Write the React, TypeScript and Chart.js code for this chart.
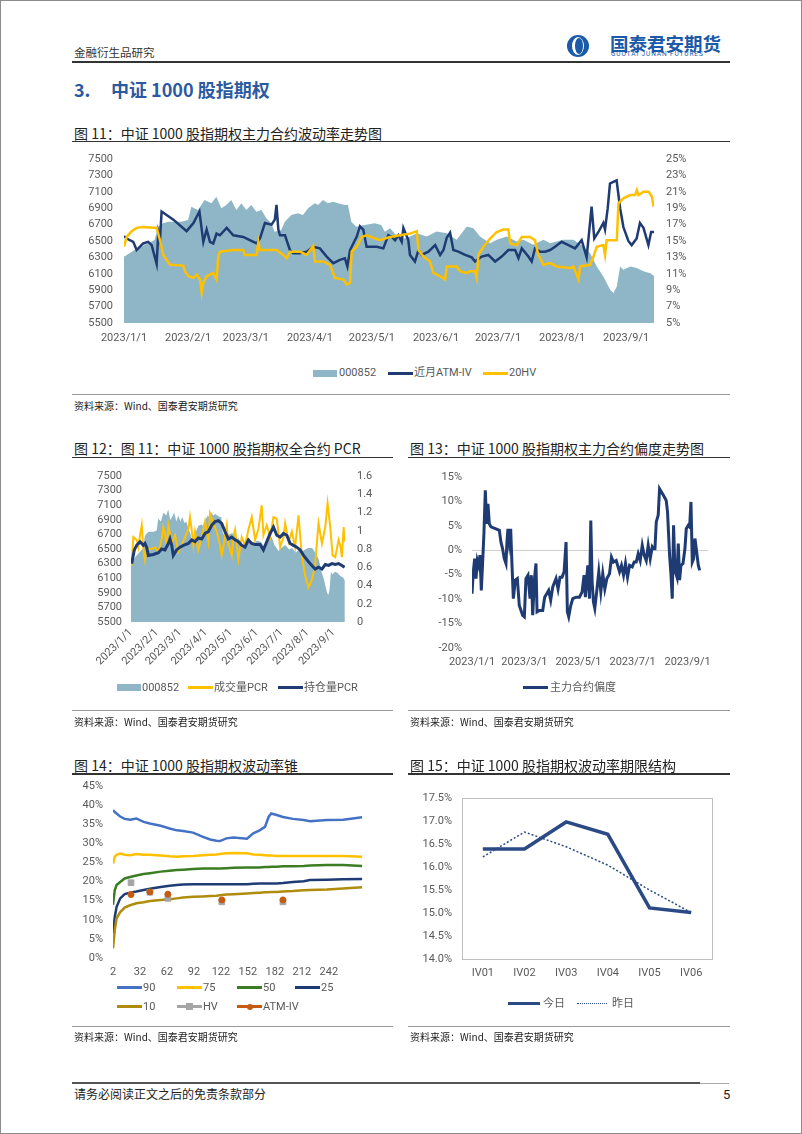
import React, { useEffect, useRef } from 'react';
import { Chart, registerables } from 'chart.js';

Chart.register(...registerables);

const AXIS_FONT = "'Liberation Sans Narrow', Roboto, 'Noto Sans CJK SC', sans-serif";
const CJK_FONT = "'Noto Sans CJK SC', 'Noto Sans', sans-serif";
const AXIS_COLOR = '#595959';

// ---------- shared ticks ----------
const monthTickDays = [0, 31, 59, 90, 120, 151, 181, 212, 243];
const monthTickLabels = ['2023/1/1', '2023/2/1', '2023/3/1', '2023/4/1', '2023/5/1', '2023/6/1', '2023/7/1', '2023/8/1', '2023/9/1'];
const skewTickDays = [0, 59, 120, 181, 243];
const skewTickLabels = ['2023/1/1', '2023/3/1', '2023/5/1', '2023/7/1', '2023/9/1'];
const indexTicks = [5500, 5700, 5900, 6100, 6300, 6500, 6700, 6900, 7100, 7300, 7500];
const volPctTicks = [5, 7, 9, 11, 13, 15, 17, 19, 21, 23, 25];
const pcrTicks = [0, 0.2, 0.4, 0.6, 0.8, 1, 1.2, 1.4, 1.6];

// ---------- 000852 index (day offset from 2023/1/1) ----------
const idxDays = [
  0, 5.2, 10, 14.8, 16.5, 18.9, 21.3, 27.7, 31, 32.6,
  35.8, 39, 42.3, 44.7, 47.1, 49.5, 51.9, 54.4, 56.8, 59.2,
  61.6, 64.1, 66.5, 68.9, 71.3, 72.9, 76.1, 77.8, 81, 84.2,
  86.6, 89.1, 92.3, 93.9, 96.3, 98.7, 101.2, 103.6, 106.8, 108.4,
  110, 112.4, 116.5, 121.3, 124.5, 126.2, 128.8, 133.6, 138.4, 141.7,
  146.5, 151.3, 156.2, 161, 165.9, 169.1, 172.3, 177.2, 180.4, 185.2,
  190, 193.3, 198.1, 203, 206.2, 209.4, 212.6, 217.5, 222.3, 225.6,
  228.8, 232, 235.3, 236.9, 238.5, 240.1, 241.7, 245, 248.2, 251.4,
  254.7, 256.8,
];
const idxValues = [
  6308, 6390, 6451, 6512, 6674, 6715, 6735, 6735, 6756, 6918,
  6878, 7000, 6959, 7040, 6898, 6939, 7000, 6878, 6959, 6878,
  6939, 6857, 6878, 6776, 6715, 6614, 6634, 6735, 6817, 6837,
  6817, 6898, 6959, 6939, 7000, 6959, 6980, 6959, 6939, 6939,
  6735, 6674, 6695, 6715, 6695, 6614, 6656, 6514, 6555, 6595,
  6555, 6615, 6595, 6514, 6677, 6656, 6555, 6474, 6514, 6555,
  6494, 6514, 6453, 6514, 6474, 6494, 6514, 6514, 6433, 6352,
  6190, 6068, 5906, 5865, 5946, 6190, 6150, 6190, 6170, 6130,
  6108, 6068,
];

// ---------- Fig 11: near-month ATM IV and 20-day HV (%) ----------
const atmIvDays = [
  0, 1.3, 4.5, 6.1, 9.3, 11.7, 13.4, 15.8, 16.6, 17.4,
  18.2, 23.9, 30.3, 33.6, 36.5, 38.4, 40, 41.6, 43.2, 44.8,
  46.4, 49.7, 52.9, 57.7, 60.9, 64.2, 65.8, 68.2, 71.4, 73,
  73.8, 74.7, 75.5, 77.9, 80.3, 81.9, 85.2, 88.4, 91.6, 94.8,
  98.1, 101.3, 104.5, 106.9, 108.1, 109.4, 112.6, 114.2, 115.8, 117.4,
  122.3, 125.5, 127.9, 129.6, 131.2, 132.8, 134.4, 135.2, 137.6, 138.4,
  140.8, 142.5, 144.1, 147.3, 150.6, 153, 154.6, 156.2, 157.8, 159.4,
  161.8, 165.1, 168.3, 169.9, 173.1, 176.3, 179.6, 182.8, 186, 189.3,
  190.9, 192.5, 195.7, 197.3, 198.9, 201.4, 203.8, 206.2, 208.6, 211.8,
  215.1, 218.3, 221.5, 223.9, 226.3, 227.6, 229.6, 232, 232.8, 234.1,
  235.2, 236.8, 238.4, 240.1, 241.7, 244.1, 245.7, 248.1, 249.7, 251.4,
  253.8, 255.1, 256.5,
];
const atmIvValues = [
  15.6, 15.3, 14.9, 13.9, 14.7, 14.9, 14.5, 12.2, 16.0, 15.1,
  18.6, 17.6, 16.2, 17.2, 18.6, 14.9, 16.4, 14.9, 14.7, 15.9,
  15.7, 16.6, 15.7, 15.5, 15.1, 14.7, 15.3, 17.2, 17.0, 17.6,
  19.4, 16.4, 15.7, 15.7, 13.9, 13.5, 13.5, 13.7, 14.3, 14.1,
  13.1, 12.3, 12.7, 12.9, 11.9, 13.9, 15.5, 16.8, 16.4, 14.3,
  14.3, 14.1, 15.7, 15.5, 15.1, 15.7, 14.9, 16.6, 15.1, 13.3,
  12.5, 13.9, 13.3, 13.7, 14.5, 13.3, 13.9, 15.4, 16.0, 13.9,
  13.7, 13.3, 13.0, 12.5, 13.1, 13.3, 12.5, 13.1, 13.9, 13.9,
  12.9, 14.1, 13.1, 12.5, 14.1, 13.7, 13.7, 13.9, 14.3, 14.9,
  14.5, 14.1, 15.1, 13.0, 19.2, 15.3, 16.1, 17.2, 16.4, 19.0,
  22.0, 22.2, 22.4, 19.0, 16.7, 15.0, 14.5, 15.3, 17.2, 16.6,
  14.5, 16.1, 16.1,
];
const hv20Days = [
  0, 1.3, 3.7, 6.1, 9.3, 15.8, 17.4, 19, 22.3, 28.7,
  29.5, 31.1, 33.6, 35.2, 36.8, 37.6, 38.4, 40, 43.2, 44.8,
  45.6, 46.4, 52.9, 57.7, 58.5, 64.2, 65, 65.8, 69, 73.9,
  77.1, 78.7, 80.3, 85.2, 88.4, 91.6, 92.4, 96.5, 99.7, 102.1,
  106.2, 107.8, 109.4, 110.2, 112.6, 115, 117.4, 123.9, 128.8, 133.6,
  138.4, 141.7, 142.5, 144.9, 148.1, 149.7, 153, 155.4, 156.2, 161,
  162.7, 165.9, 167.5, 169.9, 170.7, 171.5, 173.9, 177.2, 180.4, 183.6,
  186, 186.9, 190.1, 192.5, 196.5, 198.9, 200.5, 203, 206.2, 209.4,
  215.9, 217.5, 220, 220.7, 225.6, 227.2, 228.8, 232, 232.8, 233.6,
  238.5, 239.3, 241.7, 245, 247.4, 248.2, 249, 251.4, 253.9, 255.5,
  256.3,
];
const hv20Values = [
  14.3, 15.5, 16.2, 16.6, 16.7, 16.6, 15.1, 13.3, 12.1, 12.0,
  11.3, 10.7, 10.5, 10.9, 10.3, 8.7, 9.9, 10.7, 11.1, 10.3,
  13.1, 13.7, 13.9, 13.9, 13.3, 13.3, 14.9, 13.9, 13.9, 13.9,
  13.3, 12.9, 13.7, 13.7, 13.3, 14.4, 12.5, 12.5, 12.1, 10.5,
  10.3, 9.7, 9.9, 13.7, 14.3, 15.5, 15.7, 15.1, 15.5, 15.7,
  15.9, 16.2, 13.9, 13.1, 12.5, 11.1, 10.7, 10.3, 11.9, 11.9,
  11.3, 11.1, 11.3, 11.3, 10.5, 13.3, 14.3, 15.3, 16.1, 16.4,
  16.4, 14.7, 14.5, 15.5, 15.5, 15.1, 13.3, 12.1, 12.3, 11.9,
  11.7, 11.9, 10.3, 11.9, 12.1, 13.1, 14.3, 14.5, 13.3, 15.1,
  15.1, 19.6, 20.2, 20.6, 20.6, 21.2, 20.6, 21.0, 21.0, 20.4,
  19.2,
];

// ---------- Fig 12: PCR ----------
const volPcrDays = [
  0.8, 2.8, 6.8, 8.8, 10.8, 12.9, 14.8, 16.8, 18.8, 20.8,
  24.8, 28.8, 32.9, 36.8, 38.8, 40.8, 42.9, 44.8, 48.9, 52.9,
  56.8, 60.8, 64.8, 68.9, 70.8, 72.9, 74.9, 76.9, 80.8, 84.9,
  88.9, 92.9, 94.9, 98.9, 102.9, 107, 108.9, 110.9, 115, 116.9,
  121, 122.9, 125, 129, 133, 136.9, 141, 145, 149, 153,
  157, 159, 163, 167.1, 171.1, 175.1, 179.1, 183.2, 185.1, 189.2,
  193.2, 197.1, 201.2, 205.1, 209.1, 213.2, 217.2, 221.2, 223.3, 225.2,
  229.3, 233.3, 236.1, 239.3, 242.1, 245.3, 249.3, 251.3, 253.3, 255.4, 256.5,
];
const volPcrValues = [
  0.62, 0.93, 0.90, 0.82, 0.95, 1.06, 0.80, 0.68, 0.82, 0.80,
  0.80, 0.82, 0.77, 0.90, 1.04, 0.97, 0.80, 1.06, 0.86, 0.95,
  0.77, 0.84, 0.93, 1.02, 1.15, 1.01, 0.84, 0.99, 0.79, 0.93,
  1.10, 0.88, 1.19, 1.08, 0.99, 0.84, 0.73, 0.82, 1.06, 0.86,
  0.73, 0.93, 1.01, 0.69, 0.93, 0.84, 1.01, 1.15, 0.90, 1.02,
  1.28, 0.95, 1.06, 0.93, 1.15, 1.13, 0.82, 0.93, 1.08, 0.88,
  0.99, 0.82, 1.17, 0.73, 0.51, 0.38, 0.46, 0.62, 0.88, 1.08,
  0.86, 1.04, 1.30, 1.04, 0.73, 0.71, 0.90, 0.84, 0.71, 1.04, 0.88,
];
const oiPcrDays = [
  0.8, 4, 6.8, 10.8, 14.8, 16.8, 18.8, 20.8, 26.8, 32.9,
  36.8, 40.8, 44.8, 46.8, 48.9, 50.8, 54.8, 58.9, 62.9, 68.9,
  72.9, 76.9, 80.8, 84.9, 88.9, 92.9, 96.9, 100.9, 105, 108.9,
  112.9, 116.9, 121, 125, 129, 133, 136.9, 141, 145, 149,
  155, 159, 163, 167.1, 171.1, 175.1, 179.1, 183.2, 187.1, 191.1,
  195.1, 199.1, 203.2, 207.2, 213.2, 217.2, 221.2, 225.2, 229.3, 233.3,
  237.3, 241.3, 245.3, 249.3, 253.3, 256.5,
];
const oiPcrValues = [
  0.64, 0.79, 0.84, 0.88, 0.84, 0.86, 0.82, 0.73, 0.74, 0.76,
  0.80, 0.79, 0.86, 0.91, 0.84, 0.73, 0.79, 0.82, 0.84, 0.86,
  0.90, 0.88, 0.92, 0.91, 0.97, 0.99, 1.06, 1.10, 1.11, 1.08,
  0.99, 0.91, 0.93, 0.90, 0.88, 0.84, 0.82, 0.90, 0.86, 0.85,
  0.85, 0.79, 0.88, 0.97, 1.04, 0.95, 0.93, 0.97, 0.95, 0.86,
  0.84, 0.82, 0.79, 0.73, 0.66, 0.62, 0.58, 0.60, 0.58, 0.63,
  0.62, 0.64, 0.63, 0.64, 0.62, 0.60,
];

// ---------- Fig 13: skew (%) ----------
const skewDays = [
  0, 1.5, 3, 4.5, 6, 7.5, 9, 10.5, 12, 13.5,
  15, 16.5, 18, 19.5, 21.4, 27, 30.8, 32.6, 34.5, 36.4,
  38.3, 39.4, 40.5, 42, 43.6, 45.1, 46.6, 48.8, 51.1, 53.3,
  57.1, 59, 60.8, 63.1, 65.4, 66.9, 68.4, 70.6, 72.1, 73.3,
  75.9, 79.7, 81.9, 84.2, 86.4, 88.7, 91, 94.7, 97, 99.2,
  101.5, 103.8, 106, 107.5, 109, 111.3, 113.6, 117.3, 121.1, 124.1,
  126.3, 127.8, 130.5, 132.4, 133.9, 135.4, 136.9, 138.4, 140.7, 142.9,
  145.2, 147.4, 149.7, 152, 155, 157.2, 159.5, 162.5, 166.3, 168.5,
  170.8, 173, 175.3, 177.6, 180.6, 182.8, 185.1, 187.3, 189.6, 191.9,
  194.1, 196.4, 198.6, 200.9, 203.2, 204.7, 206.2, 207.7, 209.9, 211.4,
  213.7, 215.9, 218.9, 220.4, 222.7, 224.2, 225.7, 227.2, 228.7, 231,
  232.5, 234, 235.5, 237.8, 240, 241.5, 243.8, 245.3, 246.8, 248.3,
  249.8, 251.3, 252.8, 255.1, 256.6,
];
const skewValues = [
  -8.9, -4.4, -1.7, -5.8, -2.1, -3.1, -1.0, -8.2, -2.4, 3.7,
  12.3, 5.4, 9.5, 5.4, 4.8, 4.4, 4.1, 1.7, 0.3, -1.7,
  -2.7, 1.7, 4.4, 1.7, 4.4, -3.1, -9.9, -6.1, -5.8, -11.3,
  -13.3, -13.6, -5.8, -5.1, -9.9, -5.1, -13.3, -5.5, -2.7, -12.6,
  -12.3, -12.3, -9.6, -8.9, -8.2, -10.2, -7.5, -5.8, -7.9, -5.5,
  -5.5, -4.4, 1.7, -12.6, -13.6, -11.3, -9.9, -9.6, -9.6, -8.5,
  -5.1, -9.6, -3.1, -9.9, 6.1, -6.5, -10.6, -11.9, -8.2, -4.4,
  -8.5, -4.8, -7.9, -5.8, -4.8, -1.4, -2.4, -2.1, -4.4, -3.1,
  -5.1, -2.7, -5.5, -3.1, -3.4, -2.4, -2.4, -0.7, -2.1, 1.0,
  -1.0, -2.1, 1.0, -1.7, 0.7, 0.3, 0.3, 5.8, 7.2, 12.6,
  11.9, 11.2, 10.2, 7.8, -1.0, -4.8, -9.9, 5.1, -4.1, -5.5,
  1.4, -6.1, -3.1, -2.7, 0.3, 4.4, 5.1, 4.8, 9.9, -2.4,
  -1.7, 2.4, 0.3, -3.1, -4.1,
];

// ---------- Fig 14: volatility cone (%) ----------
const coneTickDays = [2, 32, 62, 92, 122, 152, 182, 212, 242];
const coneDays = [
  2, 4, 6, 10, 15, 21, 28, 36, 43, 55,
  65, 73, 80, 91, 102, 110, 117, 121, 128, 136,
  151, 158, 165, 171, 175, 178, 184, 191, 202, 214,
  221, 240, 258, 279,
];
const cone90 = [
  38.7, 38.2, 37.8, 37.0, 36.4, 36.2, 36.5, 35.6, 35.2, 34.6,
  33.9, 33.4, 33.2, 32.8, 31.7, 31.0, 30.7, 30.6, 31.3, 31.5,
  31.2, 32.6, 33.4, 34.3, 36.9, 37.8, 37.4, 36.9, 36.4, 36.1,
  35.8, 36.1, 36.2, 36.8,
];
const cone75 = [
  24.7, 26.5, 27.0, 27.3, 27.0, 26.9, 27.2, 27.0, 27.0, 26.8,
  26.6, 26.5, 26.6, 26.7, 26.9, 27.0, 27.1, 27.2, 27.4, 27.5,
  27.4, 27.1, 27.0, 26.9, 26.8, 26.8, 26.7, 26.7, 26.7, 26.7,
  26.7, 26.7, 26.7, 26.5,
];
const cone50 = [
  13.9, 17.8, 19.1, 19.9, 20.8, 21.2, 21.6, 22.0, 22.2, 22.6,
  22.8, 23.0, 23.1, 23.3, 23.4, 23.4, 23.4, 23.4, 23.5, 23.6,
  23.7, 23.7, 23.7, 23.8, 23.8, 23.9, 23.9, 24.0, 24.0, 24.1,
  24.2, 24.3, 24.3, 24.1,
];
const cone25 = [
  6.4, 10.8, 13.4, 15.6, 16.7, 17.1, 17.4, 17.8, 18.1, 18.6,
  18.9, 19.1, 19.2, 19.3, 19.3, 19.3, 19.3, 19.3, 19.3, 19.3,
  19.3, 19.4, 19.5, 19.5, 19.5, 19.5, 19.5, 19.6, 19.9, 20.1,
  20.4, 20.5, 20.6, 20.7,
];
const cone10 = [
  2.5, 7.3, 10.4, 12.0, 13.2, 13.8, 14.3, 14.6, 14.9, 15.2,
  15.4, 15.6, 15.8, 16.0, 16.1, 16.2, 16.3, 16.4, 16.6, 16.7,
  16.9, 17.0, 17.1, 17.2, 17.2, 17.3, 17.3, 17.4, 17.5, 17.7,
  17.8, 17.9, 18.2, 18.5,
];
const coneMarkDays = [22, 43, 63, 123, 191];
const coneHv = [19.7, 17.2, 15.6, 14.7, 14.7];
const coneAtmIv = [16.6, 17.3, 16.7, 15.2, 15.2];

// ---------- Fig 15: term structure (%) ----------
const termLabels = ['IV01', 'IV02', 'IV03', 'IV04', 'IV05', 'IV06'];
const termToday = [16.39, 16.39, 16.98, 16.71, 15.11, 15.01];
const termYesterday = [16.22, 16.76, 16.44, 16.04, 15.5, 15.01];

// ---------- helpers ----------
const TOP_PAD = 20;
const pts = (xs: number[], ys: number[]) => xs.map((x, i) => ({ x, y: ys[i] }));
const fixW = (w: number) => (s: any) => { s.width = w; };
const fixH = (h: number) => (s: any) => { s.height = h; };
const tickFont = { family: AXIS_FONT, size: 11 };
const fixedTicks = (values: number[]) => (s: any) => { s.ticks = values.map((v) => ({ value: v })); };
const labelFor = (values: number[], labels: string[]) => (v: any) => {
  const i = values.indexOf(Number(v));
  return i >= 0 ? labels[i] : '';
};
const plain = (v: any) => String(v);
const noGrid = { display: false, drawTicks: false };
const noBorder = { display: false };
const baseOptions = (right: number) => ({
  responsive: false,
  animation: false,
  devicePixelRatio: 1,
  layout: { padding: { top: TOP_PAD, left: 0, right, bottom: 0 } },
  plugins: { legend: { display: false }, tooltip: { enabled: false } },
  elements: { line: { tension: 0 } },
});

function fig11(): any {
  return {
    type: 'line',
    data: {
      datasets: [
        { label: '000852', data: pts(idxDays, idxValues), yAxisID: 'y', fill: 'start', backgroundColor: '#8FB6C7', borderWidth: 0, pointRadius: 0, order: 3 },
        { label: '近月ATM-IV', data: pts(atmIvDays, atmIvValues), yAxisID: 'y1', borderColor: '#1F3B73', borderWidth: 2.5, pointRadius: 0, fill: false, order: 2 },
        { label: '20HV', data: pts(hv20Days, hv20Values), yAxisID: 'y1', borderColor: '#FFC000', borderWidth: 2.5, pointRadius: 0, fill: false, order: 1 },
      ],
    },
    options: {
      ...baseOptions(0),
      scales: {
        x: {
          type: 'linear', min: 0, max: 256.5, grid: noGrid, border: noBorder,
          afterBuildTicks: fixedTicks(monthTickDays),
          ticks: { callback: labelFor(monthTickDays, monthTickLabels), autoSkip: false, maxRotation: 0, minRotation: 0, padding: 9, font: tickFont, color: AXIS_COLOR },
          afterFit: fixH(32),
        },
        y: {
          position: 'left', min: 5500, max: 7500, grid: noGrid, border: noBorder,
          afterBuildTicks: fixedTicks(indexTicks),
          ticks: { autoSkip: false, padding: 11, font: tickFont, color: AXIS_COLOR, callback: plain },
          afterFit: fixW(52),
        },
        y1: {
          position: 'right', min: 5, max: 25, grid: noGrid, border: noBorder,
          afterBuildTicks: fixedTicks(volPctTicks),
          ticks: { autoSkip: false, padding: 12, font: tickFont, color: AXIS_COLOR, callback: (v: any) => v + '%' },
          afterFit: fixW(76),
        },
      },
    },
  };
}

function fig12(): any {
  return {
    type: 'line',
    data: {
      datasets: [
        { label: '000852', data: pts(idxDays, idxValues), yAxisID: 'y', fill: 'start', backgroundColor: '#8FB6C7', borderWidth: 0, pointRadius: 0, order: 3 },
        { label: '成交量PCR', data: pts(volPcrDays, volPcrValues), yAxisID: 'y1', borderColor: '#FFC000', borderWidth: 2, pointRadius: 0, fill: false, order: 2 },
        { label: '持仓量PCR', data: pts(oiPcrDays, oiPcrValues), yAxisID: 'y1', borderColor: '#1F3B73', borderWidth: 3, pointRadius: 0, fill: false, order: 1 },
      ],
    },
    options: {
      ...baseOptions(0),
      scales: {
        x: {
          type: 'linear', min: 0, max: 257, grid: noGrid, border: noBorder,
          afterBuildTicks: fixedTicks(monthTickDays),
          ticks: { callback: labelFor(monthTickDays, monthTickLabels), autoSkip: false, maxRotation: 45, minRotation: 45, padding: 4, font: tickFont, color: AXIS_COLOR },
          afterFit: fixH(62),
        },
        y: {
          position: 'left', min: 5500, max: 7500, grid: noGrid, border: noBorder,
          afterBuildTicks: fixedTicks(indexTicks),
          ticks: { autoSkip: false, padding: 9, font: tickFont, color: AXIS_COLOR, callback: plain },
          afterFit: fixW(59),
        },
        y1: {
          position: 'right', min: 0, max: 1.6, grid: noGrid, border: noBorder,
          afterBuildTicks: fixedTicks(pcrTicks),
          ticks: { autoSkip: false, padding: 12, font: tickFont, color: AXIS_COLOR, callback: plain },
          afterFit: fixW(48),
        },
      },
    },
  };
}

function fig13(): any {
  return {
    type: 'line',
    data: {
      datasets: [
        { label: '主力合约偏度', data: pts(skewDays, skewValues), borderColor: '#1F3B73', borderWidth: 3, pointRadius: 0, fill: false },
      ],
    },
    options: {
      ...baseOptions(22),
      scales: {
        x: {
          type: 'linear', min: 0, max: 266, grid: noGrid, border: noBorder,
          afterBuildTicks: fixedTicks(skewTickDays),
          ticks: { callback: labelFor(skewTickDays, skewTickLabels), autoSkip: false, maxRotation: 0, minRotation: 0, padding: 8, font: tickFont, color: AXIS_COLOR },
          afterFit: fixH(36),
        },
        y: {
          min: -20, max: 15, border: noBorder,
          grid: { drawTicks: false, color: (c: any) => (c.tick && c.tick.value === 0 ? '#D0D0D0' : 'rgba(0,0,0,0)'), lineWidth: 1 },
          ticks: { stepSize: 5, autoSkip: false, padding: 10, font: tickFont, color: AXIS_COLOR, callback: (v: any) => v + '%' },
          afterFit: fixW(64),
        },
      },
    },
  };
}

function fig14(): any {
  const line = (label: string, vals: number[], color: string, order: number) => ({
    label, data: pts(coneDays, vals), borderColor: color, borderWidth: 2.5, pointRadius: 0, fill: false, order,
  });
  return {
    type: 'line',
    data: {
      datasets: [
        line('90', cone90, '#4472C4', 6),
        line('75', cone75, '#FFC000', 5),
        line('50', cone50, '#3B7D23', 4),
        line('25', cone25, '#1F3B73', 3),
        line('10', cone10, '#B08C0C', 2),
        { label: 'HV', data: pts(coneMarkDays, coneHv), showLine: false, pointStyle: 'rect', pointRadius: 4, backgroundColor: '#A5A5A5', borderColor: '#A5A5A5', order: 1 },
        { label: 'ATM-IV', data: pts(coneMarkDays, coneAtmIv), showLine: false, pointStyle: 'circle', pointRadius: 3, backgroundColor: '#C55A11', borderColor: '#C55A11', order: 0 },
      ],
    },
    options: {
      ...baseOptions(30),
      scales: {
        x: {
          type: 'linear', min: 2, max: 280, grid: noGrid, border: noBorder,
          afterBuildTicks: fixedTicks(coneTickDays),
          ticks: { callback: plain, autoSkip: false, maxRotation: 0, minRotation: 0, padding: 8, font: tickFont, color: AXIS_COLOR },
          afterFit: fixH(25),
        },
        y: {
          min: 0, max: 45, grid: noGrid, border: noBorder,
          ticks: { stepSize: 5, autoSkip: false, padding: 10, font: tickFont, color: AXIS_COLOR, callback: (v: any) => v + '%' },
          afterFit: fixW(41),
        },
      },
    },
  };
}

const plotBox = {
  id: 'plotBox',
  beforeDatasetsDraw(c: any) {
    const { ctx, chartArea } = c;
    ctx.save();
    ctx.strokeStyle = '#BFBFBF';
    ctx.lineWidth = 1;
    ctx.strokeRect(Math.round(chartArea.left) + 0.5, Math.round(chartArea.top) + 0.5, Math.round(chartArea.right - chartArea.left), Math.round(chartArea.bottom - chartArea.top));
    ctx.restore();
  },
};

function fig15(): any {
  return {
    type: 'line',
    data: {
      labels: termLabels,
      datasets: [
        { label: '今日', data: termToday, borderColor: '#2B4A85', borderWidth: 3.5, pointRadius: 0, fill: false },
        { label: '昨日', data: termYesterday, borderColor: '#2B4A85', borderWidth: 1.5, borderDash: [2, 2], pointRadius: 0, fill: false },
      ],
    },
    plugins: [plotBox],
    options: {
      ...baseOptions(18),
      scales: {
        x: {
          type: 'category', offset: true, grid: noGrid, border: noBorder,
          ticks: { padding: 8, font: tickFont, color: AXIS_COLOR, maxRotation: 0 },
          afterFit: fixH(26),
        },
        y: {
          min: 14, max: 17.5, grid: noGrid, border: noBorder,
          ticks: { stepSize: 0.5, autoSkip: false, padding: 10, font: tickFont, color: AXIS_COLOR, callback: (v: any) => Number(v).toFixed(1) + '%' },
          afterFit: fixW(54),
        },
      },
    },
  };
}

// ---------- components ----------
function ChartBox({ left, plotTop, bottom, width, make }: any) {
  const ref = useRef<HTMLCanvasElement>(null);
  const top = plotTop - TOP_PAD;
  const height = bottom - top;
  useEffect(() => {
    const chart = new Chart(ref.current as HTMLCanvasElement, make());
    return () => chart.destroy();
  }, []);
  return <canvas ref={ref} width={width} height={height} style={{ position: 'absolute', left, top, width, height }} />;
}

const Txt = ({ x, y, size, color = '#222', weight = 400, family = CJK_FONT, children }: any) => (
  <div style={{ position: 'absolute', left: x, top: y - size / 2, fontSize: size, lineHeight: size + 'px', color, fontWeight: weight, fontFamily: family, whiteSpace: 'nowrap' }}>{children}</div>
);
const HLine = ({ x1, x2, y, color = '#333', t = 1 }: any) => (
  <div style={{ position: 'absolute', left: x1, top: y - t / 2, width: x2 - x1, height: t, background: color }} />
);
const LgLine = ({ x, y, w = 25, color, t = 3, dotted = false }: any) => (
  dotted
    ? <div style={{ position: 'absolute', left: x, top: y - t / 2, width: w, height: 0, borderTop: `${t}px dotted ${color}` }} />
    : <div style={{ position: 'absolute', left: x, top: y - t / 2, width: w, height: t, background: color }} />
);
const LgBox = ({ x, y, w = 24, h = 7, color }: any) => (
  <div style={{ position: 'absolute', left: x, top: y - h / 2, width: w, height: h, background: color }} />
);
const LgText = ({ x, y, children }: any) => (
  <div style={{ position: 'absolute', left: x, top: y - 7, fontSize: 11, lineHeight: '14px', color: AXIS_COLOR, fontFamily: AXIS_FONT, whiteSpace: 'nowrap' }}>{children}</div>
);
const Dot = ({ x, y, size, color, round }: any) => (
  <div style={{ position: 'absolute', left: x - size / 2, top: y - size / 2, width: size, height: size, background: color, borderRadius: round ? '50%' : 0 }} />
);

const SRC = '资料来源：Wind、国泰君安期货研究';

export default function App() {
  return (
    <div style={{ position: 'absolute', left: 0, top: 0, width: 802, height: 1134, background: '#fff', overflow: 'hidden' }}>
      <div style={{ position: 'absolute', left: 0, top: 0, width: 802, height: 1134, boxSizing: 'border-box', border: '1px solid #8c8c8c' }} />

      {/* header */}
      <Txt x={74} y={52.5} size={11.5} color="#333">金融衍生品研究</Txt>
      <div style={{ position: 'absolute', left: 567, top: 35, width: 22, height: 22, borderRadius: '50%', background: '#1B5AA8' }} />
      <div style={{ position: 'absolute', left: 572, top: 37, width: 12, height: 18, borderRadius: '50%', background: '#fff' }} />
      <div style={{ position: 'absolute', left: 575, top: 38, width: 8, height: 16, borderRadius: '50%', background: '#1B5AA8' }} />
      <Txt x={610} y={43} size={18.5} color="#1B5AA8" weight={700}>国泰君安期货</Txt>
      <Txt x={611} y={54.5} size={6.5} color="#1B5AA8" family="Roboto, sans-serif"><span style={{ letterSpacing: '0.9px' }}>GUOTAI JUNAN FUTURES</span></Txt>
      <HLine x1={72} x2={730} y={62} color="#333" t={1.5} />

      {/* section title */}
      <Txt x={74} y={88.5} size={18} color="#2C5AA0" weight={700}>3.</Txt>
      <Txt x={111} y={88.5} size={18} color="#2C5AA0" weight={700}>中证 1000 股指期权</Txt>

      {/* Fig 11 */}
      <Txt x={74} y={132.5} size={14} color="#222">图 11：中证 1000 股指期权主力合约波动率走势图</Txt>
      <HLine x1={72} x2={730} y={141.5} color="#333" t={1.5} />
      <ChartBox left={72} plotTop={159} bottom={355} width={658} make={fig11} />
      <LgBox x={313} y={373} color="#8FB6C7" />
      <LgText x={339} y={373}>000852</LgText>
      <LgLine x={388} y={373} color="#1F3B73" />
      <LgText x={414} y={373}>近月ATM-IV</LgText>
      <LgLine x={483} y={373} color="#FFC000" />
      <LgText x={509} y={373}>20HV</LgText>
      <HLine x1={72} x2={730} y={394} color="#999" t={1} />
      <Txt x={74} y={405.5} size={10} color="#222">{SRC}</Txt>

      {/* Fig 12 */}
      <Txt x={74} y={448} size={14} color="#222">图 12：图 11：中证 1000 股指期权全合约 PCR</Txt>
      <HLine x1={72} x2={393} y={457.5} color="#333" t={1.5} />
      <ChartBox left={72} plotTop={476} bottom={684} width={321} make={fig12} />
      <LgBox x={117} y={687.5} color="#8FB6C7" />
      <LgText x={142} y={687.5}>000852</LgText>
      <LgLine x={188} y={687.5} color="#FFC000" />
      <LgText x={214} y={687.5}>成交量PCR</LgText>
      <LgLine x={278} y={687.5} color="#1F3B73" />
      <LgText x={304} y={687.5}>持仓量PCR</LgText>
      <HLine x1={72} x2={393} y={710} color="#999" t={1} />
      <Txt x={74} y={721.5} size={10} color="#222">{SRC}</Txt>

      {/* Fig 13 */}
      <Txt x={410} y={448} size={14} color="#222">图 13：中证 1000 股指期权主力合约偏度走势图</Txt>
      <HLine x1={408} x2={730} y={457.5} color="#333" t={1.5} />
      <ChartBox left={408} plotTop={477} bottom={684} width={322} make={fig13} />
      <LgLine x={523} y={687.5} color="#1F3B73" />
      <LgText x={550} y={687.5}>主力合约偏度</LgText>
      <HLine x1={408} x2={730} y={710} color="#999" t={1} />
      <Txt x={410} y={721.5} size={10} color="#222">{SRC}</Txt>

      {/* Fig 14 */}
      <Txt x={74} y={765} size={14} color="#222">图 14：中证 1000 股指期权波动率锥</Txt>
      <HLine x1={72} x2={393} y={774} color="#333" t={1.5} />
      <ChartBox left={72} plotTop={786} bottom={983} width={321} make={fig14} />
      <LgLine x={117} y={987.5} color="#4472C4" />
      <LgText x={143} y={987.5}>90</LgText>
      <LgLine x={177} y={987.5} color="#FFC000" />
      <LgText x={203} y={987.5}>75</LgText>
      <LgLine x={237} y={987.5} color="#3B7D23" />
      <LgText x={263} y={987.5}>50</LgText>
      <LgLine x={295} y={987.5} color="#1F3B73" />
      <LgText x={321} y={987.5}>25</LgText>
      <LgLine x={117} y={1006.5} color="#B08C0C" />
      <LgText x={143} y={1006.5}>10</LgText>
      <LgLine x={177} y={1006.5} color="#A5A5A5" />
      <Dot x={189.5} y={1006.5} size={7} color="#A5A5A5" />
      <LgText x={203} y={1006.5}>HV</LgText>
      <LgLine x={237} y={1006.5} color="#C55A11" />
      <Dot x={249.5} y={1006.5} size={6} color="#C55A11" round />
      <LgText x={263} y={1006.5}>ATM-IV</LgText>
      <HLine x1={72} x2={393} y={1026.5} color="#999" t={1} />
      <Txt x={74} y={1037} size={10} color="#222">{SRC}</Txt>

      {/* Fig 15 */}
      <Txt x={410} y={765} size={14} color="#222">图 15：中证 1000 股指期权波动率期限结构</Txt>
      <HLine x1={408} x2={730} y={774} color="#333" t={1.5} />
      <ChartBox left={408} plotTop={798} bottom={985} width={322} make={fig15} />
      <LgLine x={508} y={1003.5} w={32} color="#2B4A85" t={3.5} />
      <LgText x={543} y={1003.5}>今日</LgText>
      <LgLine x={577} y={1003.5} w={30} color="#2B4A85" t={1.5} dotted />
      <LgText x={612} y={1003.5}>昨日</LgText>
      <HLine x1={408} x2={730} y={1026.5} color="#999" t={1} />
      <Txt x={410} y={1037} size={10} color="#222">{SRC}</Txt>

      {/* footer */}
      <HLine x1={72} x2={700} y={1083} color="#555" t={2} />
      <HLine x1={700} x2={729} y={1083} color="#aaa" t={1} />
      <Txt x={74} y={1094} size={12} color="#222">请务必阅读正文之后的免责条款部分</Txt>
      <Txt x={723} y={1094} size={13} color="#222" family="'Liberation Sans Narrow', Roboto, sans-serif">5</Txt>
    </div>
  );
}
